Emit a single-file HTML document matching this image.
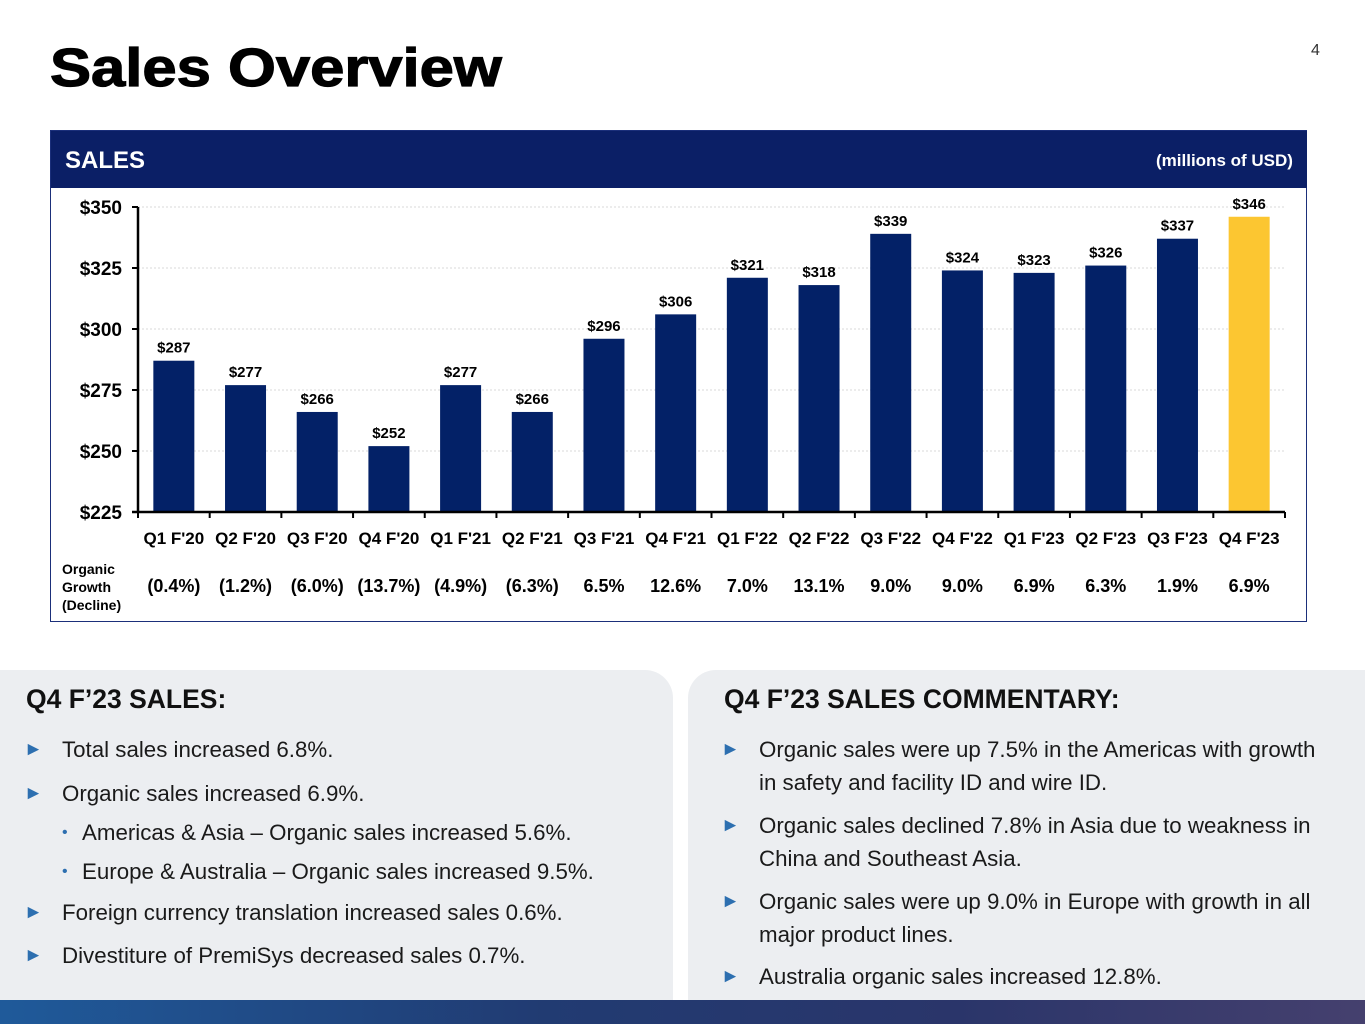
<!DOCTYPE html>
<html><head><meta charset="utf-8">
<style>
body{margin:0;width:1365px;height:1024px;overflow:hidden;background:#fff;font-family:"Liberation Sans",sans-serif;position:relative}
.abs{position:absolute}
h1{position:absolute;left:50px;top:37px;margin:0;font-size:54px;font-weight:900;color:#000;transform:scaleX(1.14);transform-origin:left top;-webkit-text-stroke:1.2px #000}
.panel{position:absolute;background:#eceef1;top:670px;height:332px}
.ph{position:absolute;font-weight:bold;font-size:26.5px;color:#111}
.b{position:absolute;font-size:22.3px;color:#1a1a1a;line-height:33px;white-space:nowrap}
.w{white-space:normal}
.b .a{position:absolute;left:-38px;color:#2d6fb0;font-size:19px}
</style></head><body>
<h1>Sales Overview</h1>
<div class="abs" style="left:1311px;top:42px;font-size:16px;color:#333">4</div>

<div class="abs" style="left:50px;top:130px;width:1255px;height:490px;border:1.5px solid #1b2f7a"></div>
<div class="abs" style="left:51px;top:131px;width:1256px;height:57px;background:#0b1f66"></div>
<div class="abs" style="left:65px;top:147px;color:#fff;font-weight:bold;font-size:24px">SALES</div>
<div class="abs" style="left:1156px;top:151px;color:#fff;font-weight:bold;font-size:17px">(millions of USD)</div>

<svg class="abs" style="left:0;top:0" width="1365" height="640" id="chart"></svg>

<div class="panel" style="left:0;width:673px;border-top-right-radius:28px"></div>
<div class="panel" style="left:688px;width:677px;border-top-left-radius:28px"></div>
<div class="ph" style="left:26px;top:684px">Q4 F’23 SALES:</div>
<div class="ph" style="left:724px;top:684px">Q4 F’23 SALES COMMENTARY:</div>

<div class="b" style="left:62px;top:733px"><span class="a">►</span>Total sales increased 6.8%.</div>
<div class="b" style="left:62px;top:777px"><span class="a">►</span>Organic sales increased 6.9%.</div>
<div class="b" style="left:82px;top:816px"><span style="position:absolute;left:-20px;color:#2d6fb0;font-size:16px">•</span>Americas &amp; Asia – Organic sales increased 5.6%.</div>
<div class="b" style="left:82px;top:855px"><span style="position:absolute;left:-20px;color:#2d6fb0;font-size:16px">•</span>Europe &amp; Australia – Organic sales increased 9.5%.</div>
<div class="b" style="left:62px;top:896px"><span class="a">►</span>Foreign currency translation increased sales 0.6%.</div>
<div class="b" style="left:62px;top:939px"><span class="a">►</span>Divestiture of PremiSys decreased sales 0.7%.</div>

<div class="b" style="left:759px;top:733px"><span class="a">►</span>Organic sales were up 7.5% in the Americas with growth<br>in safety and facility ID and wire ID.</div>
<div class="b" style="left:759px;top:809px"><span class="a">►</span>Organic sales declined 7.8% in Asia due to weakness in<br>China and Southeast Asia.</div>
<div class="b" style="left:759px;top:885px"><span class="a">►</span>Organic sales were up 9.0% in Europe with growth in all<br>major product lines.</div>
<div class="b" style="left:759px;top:960px"><span class="a">►</span>Australia organic sales increased 12.8%.</div>

<div class="abs" style="left:0;top:1000px;width:1365px;height:24px;background:linear-gradient(90deg,#1f5a9a,#213b72 40%,#2a356a 70%,#45406e)"></div>

<script>
const categories=["Q1 F'20","Q2 F'20","Q3 F'20","Q4 F'20","Q1 F'21","Q2 F'21","Q3 F'21","Q4 F'21","Q1 F'22","Q2 F'22","Q3 F'22","Q4 F'22","Q1 F'23","Q2 F'23","Q3 F'23","Q4 F'23"];
const sales=[287,277,266,252,277,266,296,306,321,318,339,324,323,326,337,346];
const growth=["(0.4%)","(1.2%)","(6.0%)","(13.7%)","(4.9%)","(6.3%)","6.5%","12.6%","7.0%","13.1%","9.0%","9.0%","6.9%","6.3%","1.9%","6.9%"];
const yTicks=[225,250,275,300,325,350];

const svg=document.getElementById('chart');
const NS='http://www.w3.org/2000/svg';
const x0=138,x1=1285,y0=512,y1=207,ymin=225,ymax=350;
const slot=(x1-x0)/categories.length;
const X=i=>x0+slot*(i+0.5);
const Y=v=>y0-(v-ymin)/(ymax-ymin)*(y0-y1);
const FONT='"Liberation Sans Narrow","Liberation Sans",sans-serif';
function mk(tag,attrs,txt){const e=document.createElementNS(NS,tag);for(const k in attrs)e.setAttribute(k,attrs[k]);if(txt!==undefined)e.textContent=txt;svg.appendChild(e);return e;}

yTicks.forEach(t=>{
  if(t>ymin){const g=mk('line',{x1:x0,x2:x1,y1:Y(t),y2:Y(t),stroke:'#d9d9d9','stroke-dasharray':'2,2'});
  
  }
  const tk=mk('line',{x1:x0-6,x2:x0,y1:Y(t),y2:Y(t),stroke:'#000','stroke-width':2});
  
  
  const l=mk('text',{x:x0-16,y:Y(t)+7,'text-anchor':'end','font-family':FONT,'font-weight':'bold','font-size':19},'$'+t);
  
  
});

sales.forEach((v,i)=>{
  const r=mk('rect',{x:X(i)-20.5,width:41,y:Y(v),height:y0-Y(v),fill:i===sales.length-1?'#fcc631':'#032167'});
  
  
  const t=mk('text',{x:X(i),y:Y(v)-8,'text-anchor':'middle','font-family':FONT,'font-weight':'bold','font-size':15},'$'+v);
  
  
  const c=mk('text',{x:X(i),y:544,'text-anchor':'middle','font-family':FONT,'font-weight':'bold','font-size':17},categories[i]);
  
  
  const g=mk('text',{x:X(i),y:592,'text-anchor':'middle','font-family':FONT,'font-weight':'bold','font-size':18},growth[i]);
  
  
});
for(let i=0;i<=categories.length;i++){
  const tk=mk('line',{x1:x0+slot*i,x2:x0+slot*i,y1:y0,y2:y0+6,stroke:'#000','stroke-width':2});
  
  
}
const ya=mk('line',{x1:x0,x2:x0,y1:y1,y2:y0,stroke:'#000','stroke-width':2.5});


const xa=mk('line',{x1:x0-6,x2:x1,y1:y0,y2:y0,stroke:'#000','stroke-width':2.5});


['Organic','Growth','(Decline)'].forEach((s,i)=>{
  const t=mk('text',{x:62,y:574+i*18,'font-family':'"Liberation Sans",sans-serif','font-weight':'bold','font-size':14},s);
  
  
});
</script>
</body></html>
